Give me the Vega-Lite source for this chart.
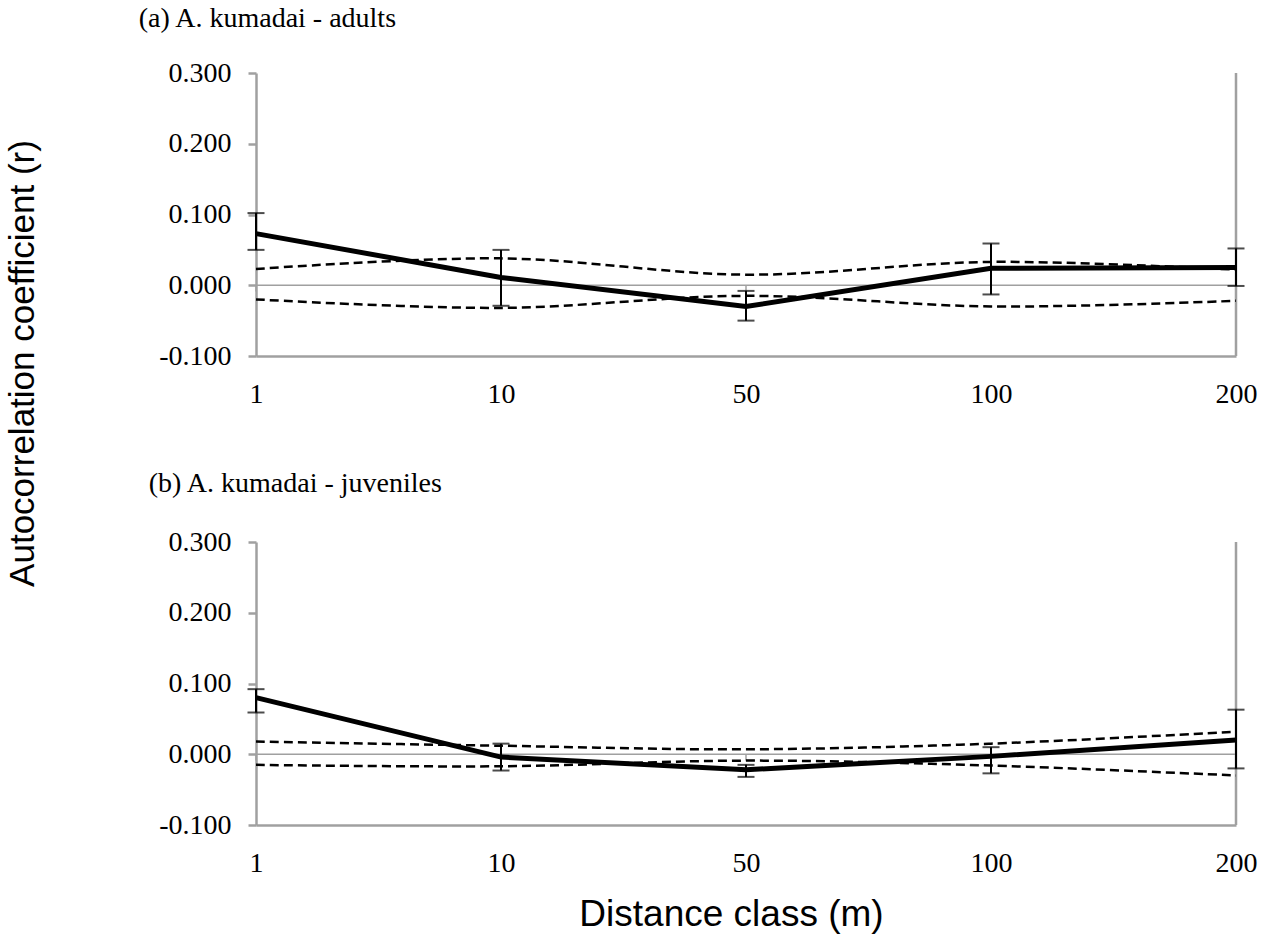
{
  "$schema": "https://vega.github.io/schema/vega-lite/v6.json",
  "background": "white",
  "padding": 5,
  "datasets": {
    "a": [
      {"dist": "1", "r": 0.073, "lo": 0.050, "hi": 0.102, "u": 0.023, "l": -0.020},
      {"dist": "10", "r": 0.011, "lo": -0.029, "hi": 0.050, "u": 0.038, "l": -0.032},
      {"dist": "50", "r": -0.030, "lo": -0.050, "hi": -0.008, "u": 0.015, "l": -0.015},
      {"dist": "100", "r": 0.024, "lo": -0.013, "hi": 0.059, "u": 0.033, "l": -0.030},
      {"dist": "200", "r": 0.025, "lo": -0.001, "hi": 0.052, "u": 0.022, "l": -0.022}
    ],
    "b": [
      {"dist": "1", "r": 0.080, "lo": 0.059, "hi": 0.092, "u": 0.018, "l": -0.015},
      {"dist": "10", "r": -0.004, "lo": -0.023, "hi": 0.015, "u": 0.012, "l": -0.017},
      {"dist": "50", "r": -0.022, "lo": -0.032, "hi": -0.015, "u": 0.007, "l": -0.009},
      {"dist": "100", "r": -0.003, "lo": -0.027, "hi": 0.010, "u": 0.015, "l": -0.016},
      {"dist": "200", "r": 0.020, "lo": -0.020, "hi": 0.063, "u": 0.032, "l": -0.030}
    ]
  },
  "title": {
    "text": "Autocorrelation coefficient (r)",
    "orient": "left",
    "anchor": "middle",
    "font": "Liberation Sans",
    "fontSize": 35,
    "fontWeight": "normal",
    "color": "black",
    "offset": 98,
    "dx": 105
  },
  "spacing": 62,
  "vconcat": [
    {
      "width": 980,
      "height": 283,
      "title": {"text": "(a) A. kumadai - adults", "anchor": "start", "font": "Liberation Serif", "fontSize": 28, "fontWeight": "normal", "color": "black", "offset": 26, "dx": -20},
      "data": {"name": "a"},
      "encoding": {
        "x": {"field": "dist", "type": "ordinal", "title": null, "scale": {"type": "point", "domain": ["1", "10", "50", "100", "200"], "padding": 0}}
      },
      "layer": [
        {"mark": {"type": "line", "color": "#A0A0A0", "strokeWidth": 1.5}, "encoding": {"y": {"datum": 0, "type": "quantitative", "scale": {"domain": [-0.1, 0.3], "nice": false}, "title": null, "axis": {"values": [-0.1, 0, 0.1, 0.2, 0.3], "labelExpr": "replace(format(datum.value, '.3f'), '\u2212', '-')"}}}},
        {"mark": {"type": "rule", "color": "#A0A0A0", "strokeWidth": 1.5}, "encoding": {"y": {"datum": 0}, "y2": {"datum": -0.009}}},
        {"data": {"values": [{}]}, "mark": {"type": "rule", "color": "#A0A0A0", "strokeWidth": 2.5}, "encoding": {"x": {"datum": "200"}, "y": {"datum": -0.1}, "y2": {"datum": 0.3}}},
        {"mark": {"type": "line", "color": "black", "strokeWidth": 2.5, "strokeDash": [9, 5], "interpolate": "catmull-rom"}, "encoding": {"y": {"field": "u", "type": "quantitative", "title": null}}},
        {"mark": {"type": "line", "color": "black", "strokeWidth": 2.5, "strokeDash": [9, 5], "interpolate": "catmull-rom"}, "encoding": {"y": {"field": "l", "type": "quantitative", "title": null}}},
        {"mark": {"type": "rule", "color": "black", "strokeWidth": 2}, "encoding": {"y": {"field": "lo", "type": "quantitative", "title": null}, "y2": {"field": "hi"}}},
        {"mark": {"type": "tick", "color": "black", "thickness": 2, "size": 17, "orient": "horizontal"}, "encoding": {"y": {"field": "lo", "type": "quantitative", "title": null}}},
        {"mark": {"type": "tick", "color": "black", "thickness": 2, "size": 17, "orient": "horizontal"}, "encoding": {"y": {"field": "hi", "type": "quantitative", "title": null}}},
        {"mark": {"type": "line", "color": "black", "strokeWidth": 5}, "encoding": {"y": {"field": "r", "type": "quantitative", "title": null}}}
      ]
    },
    {
      "width": 980,
      "height": 283,
      "title": {"text": "(b) A. kumadai - juveniles", "anchor": "start", "font": "Liberation Serif", "fontSize": 28, "fontWeight": "normal", "color": "black", "offset": 30, "dx": -10},
      "data": {"name": "b"},
      "encoding": {
        "x": {"field": "dist", "type": "ordinal", "title": "Distance class (m)", "axis": {"titleX": 475, "titlePadding": 19}, "scale": {"type": "point", "domain": ["1", "10", "50", "100", "200"], "padding": 0}}
      },
      "layer": [
        {"mark": {"type": "line", "color": "#A0A0A0", "strokeWidth": 1.5}, "encoding": {"y": {"datum": 0, "type": "quantitative", "scale": {"domain": [-0.1, 0.3], "nice": false}, "title": null, "axis": {"values": [-0.1, 0, 0.1, 0.2, 0.3], "labelExpr": "replace(format(datum.value, '.3f'), '\u2212', '-')"}}}},
        {"mark": {"type": "rule", "color": "#A0A0A0", "strokeWidth": 1.5}, "encoding": {"y": {"datum": 0}, "y2": {"datum": -0.009}}},
        {"data": {"values": [{}]}, "mark": {"type": "rule", "color": "#A0A0A0", "strokeWidth": 2.5}, "encoding": {"x": {"datum": "200"}, "y": {"datum": -0.1}, "y2": {"datum": 0.3}}},
        {"mark": {"type": "line", "color": "black", "strokeWidth": 2.5, "strokeDash": [9, 5], "interpolate": "catmull-rom"}, "encoding": {"y": {"field": "u", "type": "quantitative", "title": null}}},
        {"mark": {"type": "line", "color": "black", "strokeWidth": 2.5, "strokeDash": [9, 5], "interpolate": "catmull-rom"}, "encoding": {"y": {"field": "l", "type": "quantitative", "title": null}}},
        {"mark": {"type": "rule", "color": "black", "strokeWidth": 2}, "encoding": {"y": {"field": "lo", "type": "quantitative", "title": null}, "y2": {"field": "hi"}}},
        {"mark": {"type": "tick", "color": "black", "thickness": 2, "size": 17, "orient": "horizontal"}, "encoding": {"y": {"field": "lo", "type": "quantitative", "title": null}}},
        {"mark": {"type": "tick", "color": "black", "thickness": 2, "size": 17, "orient": "horizontal"}, "encoding": {"y": {"field": "hi", "type": "quantitative", "title": null}}},
        {"mark": {"type": "line", "color": "black", "strokeWidth": 5}, "encoding": {"y": {"field": "r", "type": "quantitative", "title": null}}}
      ]
    }
  ],
  "config": {
    "view": {"stroke": null},
    "axis": {
      "domainColor": "#A0A0A0",
      "domainWidth": 2.5,
      "tickColor": "#A0A0A0",
      "tickWidth": 2.5,
      "tickSize": 8,
      "grid": false,
      "labelFont": "Liberation Serif",
      "labelFontSize": 28,
      "labelColor": "black",
      "titleFont": "Liberation Sans",
      "titleFontSize": 37,
      "titleFontWeight": "normal",
      "titleColor": "black"
    },
    "axisX": {"ticks": false, "labelPadding": 24, "labelAngle": 0, "titlePadding": 20},
    "axisY": {"labelPadding": 17}
  }
}
